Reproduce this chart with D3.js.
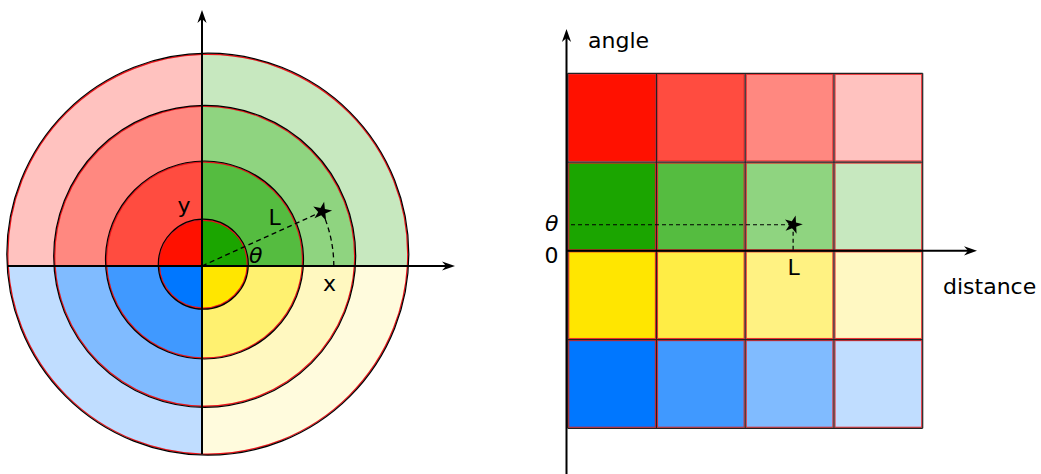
<!DOCTYPE html>
<html><head><meta charset="utf-8">
<script src="https://cdn.jsdelivr.net/npm/d3@7"></script>
<style>html,body{margin:0;padding:0;background:#fff;} svg{display:block;font-family:"DejaVu Sans",sans-serif;}</style>
</head><body><svg id="chart" width="1041" height="474"></svg>
<script>
// ---------------- data ----------------
const quadrantNames = ["red", "green", "yellow", "blue"];
const quadrantAngleStart = [90, 0, -90, -180];
const quadrantAngleEnd = [180, 90, 0, -90];
const ringIndex = [1, 2, 3, 4];
const redShades = ["#ff1100", "#ff4c40", "#ff8880", "#ffc2bf"];
const greenShades = ["#1ba500", "#55bc40", "#8fd480", "#c7e8bf"];
const yellowShades = ["#ffe600", "#ffed45", "#fff282", "#fff8c2"];
const polarYellowShades = ["#ffe600", "#fff170", "#fff8c0", "#fffbdd"];
const blueShades = ["#0077ff", "#4099ff", "#80bbff", "#c0ddff"];
const gridShades = [redShades, greenShades, yellowShades, blueShades];
const polarShades = [redShades, greenShades, polarYellowShades, blueShades];
const polarStarDistance = 2.65;   // ring units
const polarStarAngle = 24.4;      // degrees
const gridStarDistance = 2.54;    // column units
const gridStarAngle = 26.4;       // degrees
const polarLabels = ["x", "y", "L", "θ"];
const gridAxisLabels = ["distance", "angle"];
const gridTickLabels = ["θ", "0", "L"];

// ---------------- layout ----------------
const svg = d3.select("#chart");
const defs = svg.append("defs");
const FONT = 22;
const dash = "5,3.5";

function arrow(g, x1, y1, x2, y2) {
  const a = Math.atan2(y2 - y1, x2 - x1);
  const bx = x2 - 9 * Math.cos(a), by = y2 - 9 * Math.sin(a);
  g.append("line").attr("x1", x1).attr("y1", y1).attr("x2", bx).attr("y2", by)
    .attr("stroke", "#000").attr("stroke-width", 2);
  g.append("path").attr("d", "M0,0 L-13,-4.6 L-9,0 L-13,4.6 Z")
    .attr("transform", `translate(${x2},${y2}) rotate(${a * 180 / Math.PI})`)
    .attr("fill", "#000");
}

// ===== Left: polar chart =====
const O = { x: 202, y: 266 };
const rScale = d3.scaleLinear().domain([0, 1, 2, 3, 4]).range([0, 44, 98, 150, 200]);
const ringShift = [[1.3, -1.8], [2.5, -6], [2.7, -9.7], [5.8, -11.8]];
const left = svg.append("g");

quadrantNames.forEach((q, i) => {
  const mid = (quadrantAngleStart[i] + quadrantAngleEnd[i]) / 2 * Math.PI / 180;
  const right = Math.cos(mid) > 0, top = Math.sin(mid) > 0;
  defs.append("clipPath").attr("id", "clip-" + q).append("rect")
    .attr("x", right ? O.x : 0).attr("y", top ? 0 : O.y)
    .attr("width", right ? 300 : O.x).attr("height", top ? O.y : 300);
});

const ringsDesc = ringIndex.slice().reverse();
ringsDesc.forEach(k => {
  quadrantNames.forEach((q, i) => {
    left.append("circle")
      .attr("cx", O.x + ringShift[k - 1][0]).attr("cy", O.y + ringShift[k - 1][1])
      .attr("r", rScale(k))
      .attr("fill", polarShades[i][k - 1])
      .attr("stroke", "#e8141a").attr("stroke-width", 1.4)
      .attr("clip-path", `url(#clip-${q})`);
  });
});
ringIndex.forEach(k => {
  left.append("circle")
    .attr("cx", O.x + ringShift[k - 1][0]).attr("cy", O.y + ringShift[k - 1][1])
    .attr("r", rScale(k) + 1)
    .attr("fill", "none").attr("stroke", "#000").attr("stroke-width", 1.2);
});

// axes
arrow(left, O.x, 454, O.x, 10);
arrow(left, 8, O.y, 455, O.y);

// star + dashed guides
const sr = rScale(polarStarDistance);
const sa = polarStarAngle * Math.PI / 180;
const sx = O.x + sr * Math.cos(sa), sy = O.y - sr * Math.sin(sa);
left.append("line").attr("x1", O.x).attr("y1", O.y).attr("x2", sx).attr("y2", sy)
  .attr("stroke", "#000").attr("stroke-width", 1.3).attr("stroke-dasharray", dash);
left.append("path").attr("d", `M${sx},${sy} A${sr},${sr} 0 0 1 ${O.x + sr},${O.y}`)
  .attr("fill", "none").attr("stroke", "#000").attr("stroke-width", 1.3).attr("stroke-dasharray", dash);
left.append("path").attr("d", d3.symbol(d3.symbolStar).size(115)())
  .attr("transform", `translate(${sx},${sy}) rotate(12)`).attr("fill", "#000");

// labels
const lt = left.append("g").attr("font-size", FONT).attr("fill", "#000");
lt.append("text").attr("x", 323).attr("y", 290.5).text(polarLabels[0]);
lt.append("text").attr("x", 177.5).attr("y", 212.5).text(polarLabels[1]);
lt.append("text").attr("x", 268.5).attr("y", 225).text(polarLabels[2]);
lt.append("text").attr("x", 249).attr("y", 262.5).attr("font-style", "italic").text(polarLabels[3]);

// ===== Right: grid chart =====
const right = svg.append("g");
const xBand = d3.scaleBand().domain(ringIndex).range([567.7, 922.7]).padding(0);
const yBand = d3.scaleBand().domain(quadrantNames).range([73.3, 428.3]).padding(0);
const xLin = d3.scaleLinear().domain([0, 4]).range([567.7, 922.7]);
const yAng = d3.scaleLinear().domain([-180, 180]).range([428.3, 73.3]);

quadrantNames.forEach((q, i) => {
  ringIndex.forEach(k => {
    right.append("rect")
      .attr("x", xBand(k) + 1).attr("y", yBand(q) + 1)
      .attr("width", xBand.bandwidth() - 2).attr("height", yBand.bandwidth() - 2)
      .attr("fill", gridShades[i][k - 1])
      .attr("stroke", "#e8141a").attr("stroke-opacity", 0.85).attr("stroke-width", 1.2);
  });
});
// grid lines
const xs = ringIndex.map(k => xBand(k)).concat([xLin(4)]);
const ys = quadrantNames.map(q => yBand(q)).concat([yAng(-180)]);
xs.forEach(x => right.append("line").attr("x1", x).attr("x2", x).attr("y1", ys[0]).attr("y2", ys[4])
  .attr("stroke", "#222").attr("stroke-width", 1.2));
ys.forEach(y => right.append("line").attr("x1", xs[0]).attr("x2", xs[4]).attr("y1", y).attr("y2", y)
  .attr("stroke", "#222").attr("stroke-width", 1.2));

// axes
arrow(right, 566.5, 474, 566.5, 29);
arrow(right, 566.5, yAng(0), 977, yAng(0));

// star + dashed guides
const gx = xLin(gridStarDistance), gy = yAng(gridStarAngle);
right.append("line").attr("x1", 571).attr("y1", gy).attr("x2", gx).attr("y2", gy)
  .attr("stroke", "#000").attr("stroke-width", 1.2).attr("stroke-dasharray", "4,3");
right.append("line").attr("x1", gx).attr("y1", gy).attr("x2", gx).attr("y2", yAng(0))
  .attr("stroke", "#000").attr("stroke-width", 1.2).attr("stroke-dasharray", "4,3");
right.append("path").attr("d", d3.symbol(d3.symbolStar).size(105)())
  .attr("transform", `translate(${gx},${gy}) rotate(15)`).attr("fill", "#000");

// labels
const rt = right.append("g").attr("font-size", FONT).attr("fill", "#000");
rt.append("text").attr("x", 943).attr("y", 294).text(gridAxisLabels[0]);
rt.append("text").attr("x", 588).attr("y", 48).text(gridAxisLabels[1]);
rt.append("text").attr("x", 558.5).attr("y", gy + 6).attr("text-anchor", "end").attr("font-style", "italic").text(gridTickLabels[0]);
rt.append("text").attr("x", 558.5).attr("y", 263).attr("text-anchor", "end").text(gridTickLabels[1]);
rt.append("text").attr("x", 787.5).attr("y", 275).text(gridTickLabels[2]);
</script>
</body></html>
